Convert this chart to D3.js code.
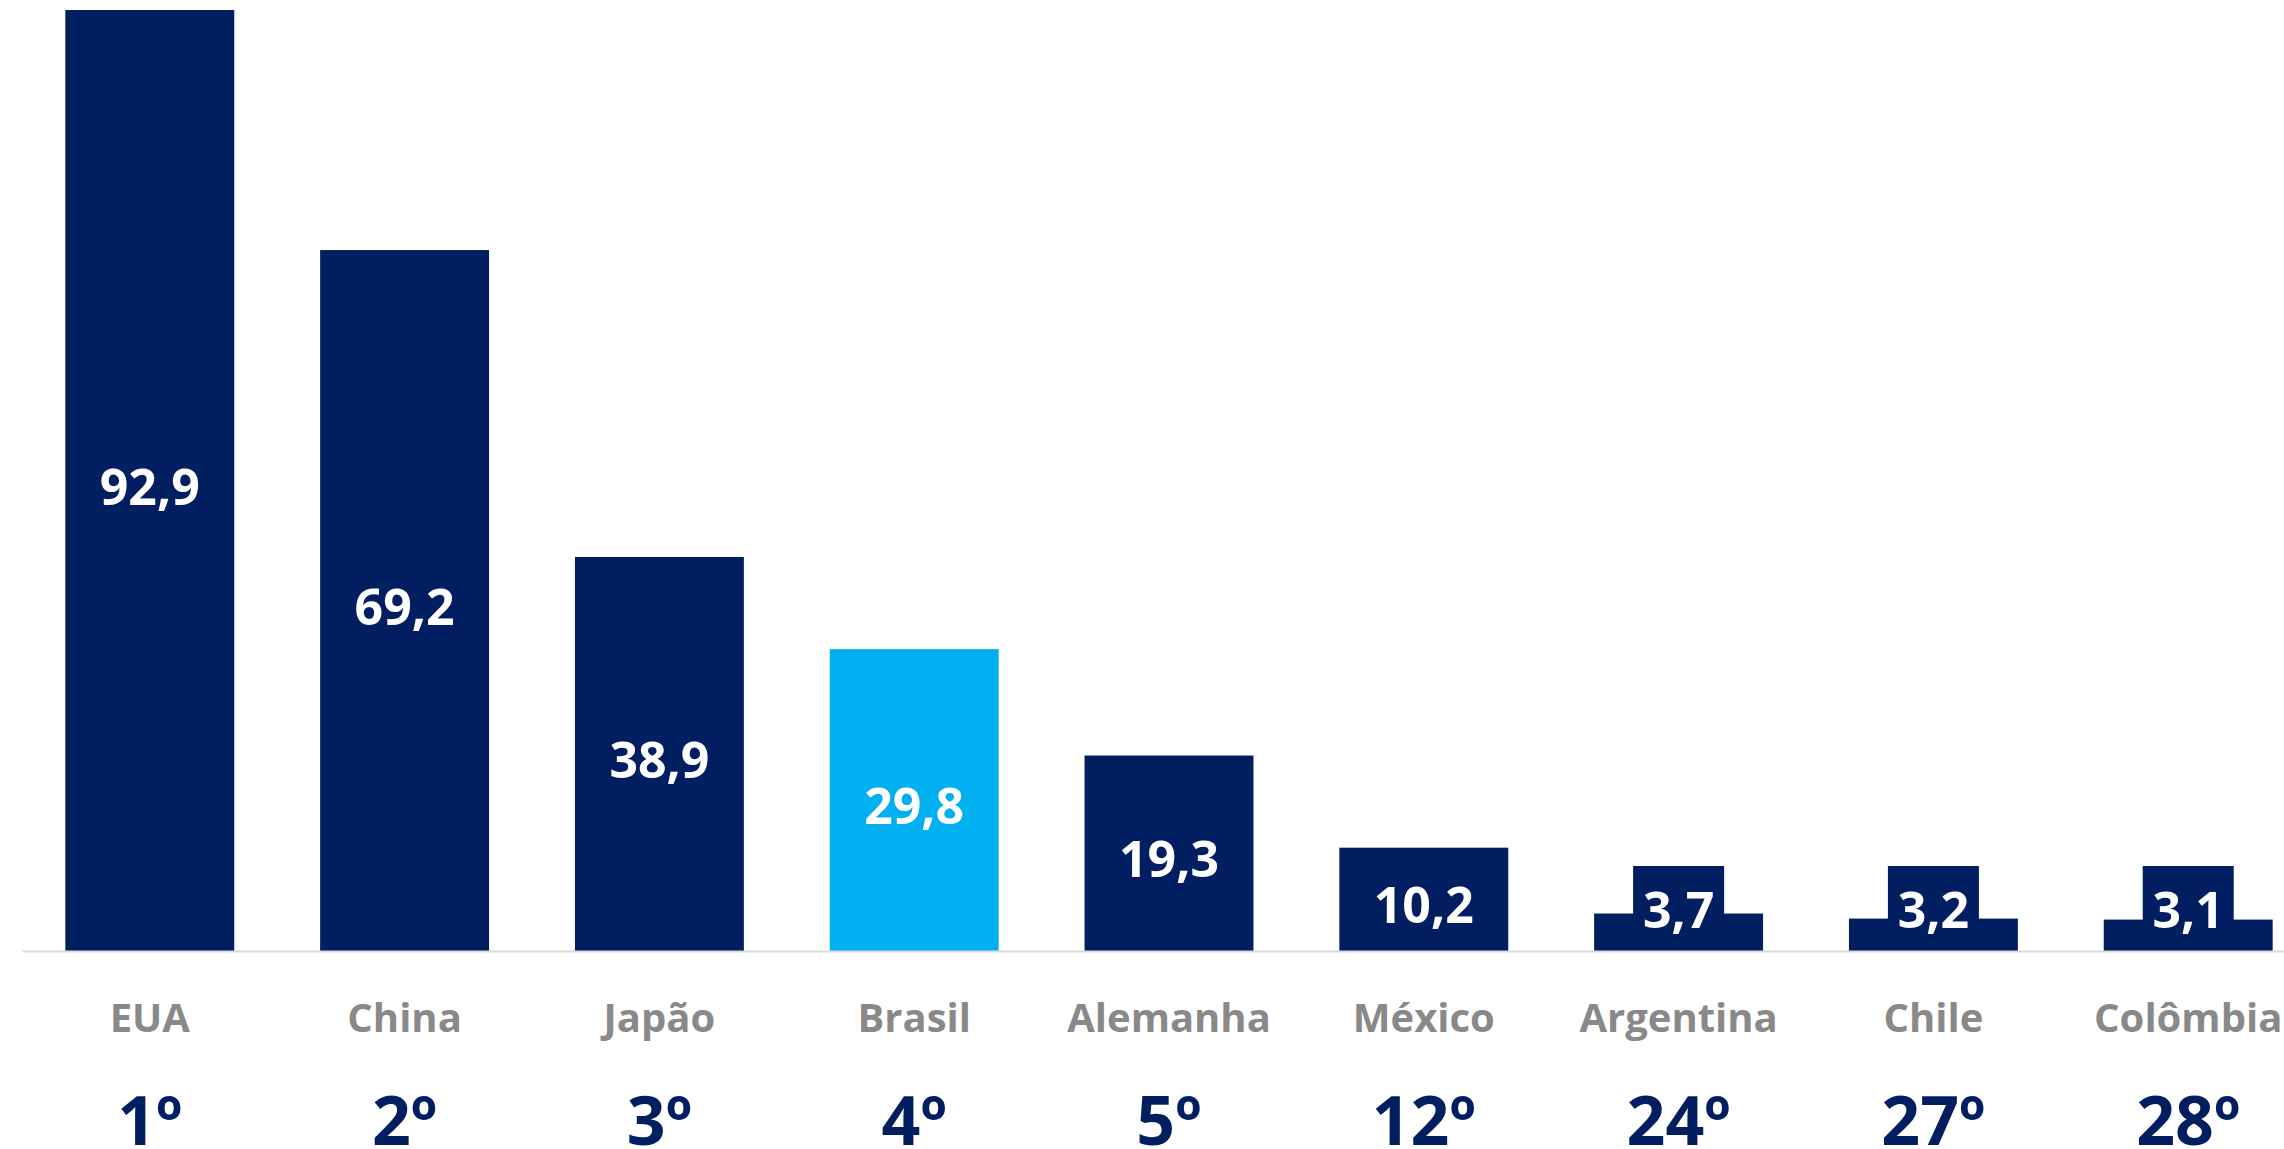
<!DOCTYPE html>
<meta charset="utf-8">
<script src="https://d3js.org/d3.v7.min.js"></script>
<style>
	body { margin: 0; background: #fff; }
	svg text { font-family: "Open Sans", "DejaVu Sans", sans-serif; font-weight: bold; }
	.axis path { stroke: #d9d9d9; stroke-width: 2px; }
	.axis line { display: none; }
	.axis text { font-size: 40px; fill: #898989; }
	.barLabel { font-size: 50px; fill: #fff; }
	.rank { font-size: 68px; fill: #001e60; }
</style>
<body>
<script>

var countries = ["EUA", "China", "Japão", "Brasil", "Alemanha", "México", "Argentina", "Chile", "Colômbia"];
var values = [92.9, 69.2, 38.9, 29.8, 19.3, 10.2, 3.7, 3.2, 3.1];
var ranks = ["1º", "2º", "3º", "4º", "5º", "12º", "24º", "27º", "28º"];
var highlight = "Brasil";

var navy = "#001e60",
    lightBlue = "#00b0f0";

var width = 2284,
    height = 1149,
    baseline = 951;

// build rows from the arrays
var data = countries.map(function(c, i) {
  return {country: c, value: values[i], rank: ranks[i]};
});

var fmt = d3.formatLocale({decimal: ",", thousands: ".", grouping: [3], currency: ["R$", ""]}).format(".1f");

var svg = d3.select("body").append("svg")
    .attr("width", width)
    .attr("height", height);

// scales
var xScale = d3.scaleBand()
  .domain(countries)
  .range([22, 2316])
  .paddingInner(0.337)
  .paddingOuter(0.17);

var yScale = d3.scaleLinear()
  .domain([0, d3.max(values)])
  .range([baseline, 10]);

// bars
svg.selectAll(".bar")
  .data(data).enter().append("rect")
  .attr("class", "bar")
  .attr("x", function(d) { return xScale(d.country); })
  .attr("y", function(d) { return yScale(d.value); })
  .attr("width", xScale.bandwidth())
  .attr("height", function(d) { return baseline - yScale(d.value); })
  .style("fill", function(d) { return d.country == highlight ? lightBlue : navy; });

// small bars get a label box sitting on top
var boxH = 85, boxW = 91;
var small = data.filter(function(d) { return baseline - yScale(d.value) < boxH; });

svg.selectAll(".labelBox")
  .data(small).enter().append("rect")
  .attr("class", "labelBox")
  .attr("x", function(d) { return xScale(d.country) + xScale.bandwidth() / 2 - boxW / 2; })
  .attr("y", baseline - boxH)
  .attr("width", boxW)
  .attr("height", boxH)
  .style("fill", navy);

// value labels
svg.selectAll(".barLabel")
  .data(data).enter().append("text")
  .attr("class", "barLabel")
  .attr("text-anchor", "middle")
  .attr("x", function(d) { return xScale(d.country) + xScale.bandwidth() / 2; })
  .attr("y", function(d) {
    var h = baseline - yScale(d.value);
    if (h < boxH) return baseline - 23;
    return yScale(d.value) + h / 2 + 24;
  })
  .text(function(d) { return fmt(d.value); });

// x axis with country names
var xAxis = d3.axisBottom(xScale)
  .tickSize(0)
  .tickPadding(53);

svg.append("g")
  .attr("class", "x axis")
  .attr("transform", "translate(0," + baseline + ")")
  .call(xAxis)
  .selectAll("text")
  .attr("font-family", null)
  .attr("font-size", null);

// ranking row
svg.selectAll(".rank")
  .data(data).enter().append("text")
  .attr("class", "rank")
  .attr("text-anchor", "middle")
  .attr("x", function(d) { return xScale(d.country) + xScale.bandwidth() / 2; })
  .attr("y", 1145)
  .text(function(d) { return d.rank; });

</script>
</body>
